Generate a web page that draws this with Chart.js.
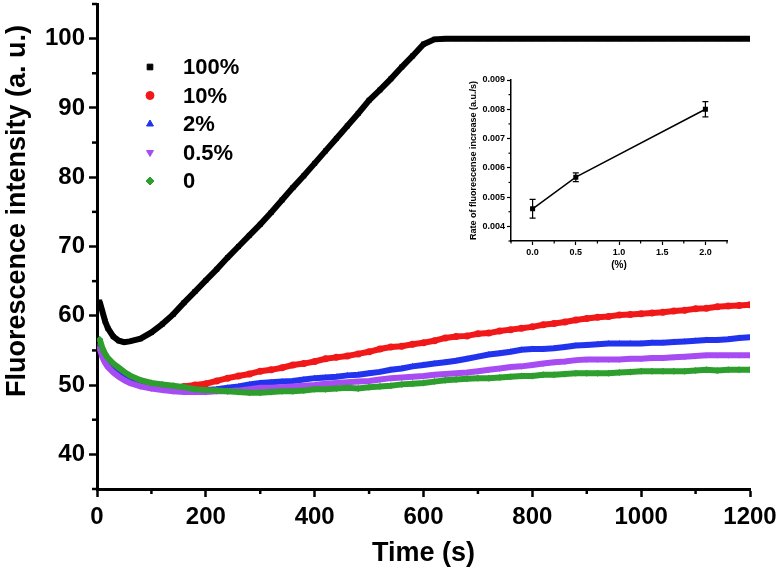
<!DOCTYPE html>
<html>
<head>
<meta charset="utf-8">
<script src="https://cdn.jsdelivr.net/npm/chart.js@4.4.0/dist/chart.umd.min.js"></script>
<style>
body { margin: 0; background: #fff; }
#wrap { position: relative; width: 779px; height: 573px; }
#main { position: absolute; left: 0; top: 0; }
#inset { position: absolute; left: 440px; top: 60px; }
</style>
</head>
<body>
<div id="wrap">
  <canvas id="main" width="779" height="573"></canvas>
  <canvas id="inset" width="300" height="215"></canvas>
</div>
<script>
// tempo (s)
const tempo = [5,10,15,20,30,40,50,60,80,100,120,140,160,180,
  200,220,240,260,280,300,320,340,360,380,400,420,440,460,480,500,520,540,560,580,
  600,620,640,660,680,700,720,740,760,780,800,820,840,860,880,900,920,940,960,980,
  1000,1020,1040,1060,1080,1100,1120,1140,1160,1180,1200];

const serie_100 = [62.0,60.6,59.2,58.2,57.0,56.4,56.2,56.3,56.7,57.6,58.8,60.2,61.9,63.5,
  65.1,66.7,68.4,70.0,71.6,73.2,74.9,76.7,78.5,80.2,82.0,83.8,85.6,87.4,89.2,91.1,92.6,94.2,95.9,97.5,
  99.2,99.9,100,100,100,100,100,100,100,100,100,100,100,100,100,100,100,100,100,100,
  100,100,100,100,100,100,100,100,100,100,100];
const serie_10 = [55.6,54.4,53.5,52.9,52.1,51.5,51.0,50.6,50.1,49.8,49.6,49.6,49.8,50.0,
  50.2,50.6,51.0,51.3,51.6,52.0,52.2,52.5,52.9,53.1,53.4,53.8,54.0,54.2,54.5,54.8,55.2,55.5,55.6,55.9,
  56.1,56.4,56.8,57.0,57.1,57.4,57.5,57.8,58.0,58.2,58.4,58.7,58.9,59.1,59.4,59.6,59.8,59.9,60.1,60.2,
  60.3,60.4,60.5,60.7,60.8,61.0,61.1,61.3,61.4,61.5,61.6];
const serie_2 = [55.9,54.7,53.8,53.2,52.4,51.8,51.3,50.9,50.3,50.0,49.7,49.5,49.4,49.3,
  49.3,49.4,49.6,49.8,50.1,50.3,50.4,50.5,50.6,50.8,51.0,51.1,51.2,51.4,51.5,51.7,51.9,52.2,52.4,52.7,
  52.9,53.1,53.3,53.5,53.8,54.1,54.4,54.6,54.8,55.1,55.2,55.2,55.3,55.5,55.7,55.8,55.9,56.0,56.0,56.0,
  56.0,56.1,56.1,56.2,56.3,56.4,56.5,56.5,56.6,56.8,56.9];
const serie_05 = [55.3,54.0,53.2,52.6,51.8,51.2,50.7,50.3,49.8,49.5,49.3,49.1,49.0,49.0,
  49.0,49.1,49.1,49.2,49.4,49.6,49.6,49.7,49.8,49.9,50.0,50.2,50.3,50.4,50.5,50.6,50.8,51.0,51.1,51.2,
  51.3,51.5,51.6,51.7,51.8,52.0,52.2,52.4,52.6,52.7,52.9,53.1,53.3,53.4,53.6,53.7,53.7,53.7,53.7,53.8,
  53.8,53.9,53.9,54.0,54.1,54.2,54.3,54.3,54.3,54.3,54.3];
const serie_0 = [56.6,55.3,54.5,53.9,53.1,52.5,51.9,51.4,50.7,50.3,50.1,49.9,49.7,49.4,
  49.3,49.2,49.1,49.0,48.9,48.9,49.0,49.1,49.1,49.2,49.4,49.4,49.5,49.6,49.5,49.7,49.8,49.9,50.1,50.2,
  50.3,50.5,50.7,50.8,50.9,51.0,51.0,51.1,51.2,51.3,51.3,51.5,51.5,51.6,51.7,51.7,51.7,51.7,51.8,51.9,
  52.0,52.0,52.0,52.0,52.0,52.1,52.2,52.1,52.2,52.2,52.2];

const rotulos = ['100%', '10%', '2%', '0.5%', '0'];
const cores = ['#000000', '#f01818', '#2233ee', '#a64cf2', '#2e9e2e'];
const estilos = ['rect', 'circle', 'triangle', 'triangle', 'rectRot'];
const rotacoes = [0, 0, 0, 180, 0];

// marcas dos eixos
const ticks_x = [0, 200, 400, 600, 800, 1000, 1200];
const ticks_y = [40, 50, 60, 70, 80, 90, 100];
const titulo_y = 'Fluorescence intensity (a. u.)';

// inset
const concentracao = [0.0, 0.5, 2.0];
const taxa = [0.00460, 0.00568, 0.00800];
const erro_taxa = [0.00032, 0.00015, 0.00026];
const ticks_x_inset = [0.0, 0.5, 1.0, 1.5, 2.0];
const ticks_y_inset = [0.004, 0.005, 0.006, 0.007, 0.008, 0.009];

const fonte = '"Liberation Sans", Arial, sans-serif';

function monta_pontos(xs, ys) {
  return xs.map((x, i) => ({x: x, y: ys[i]}));
}

function fixa_ticks(lista) {
  return (s) => { s.ticks = lista.map(v => ({value: v})); };
}

const minorTicks = {
  id: 'minorTicks',
  afterDraw(chart, args, opts) {
    const ctx = chart.ctx;
    const area = chart.chartArea;
    const xs = chart.scales.x, ys = chart.scales.y;
    ctx.save();
    ctx.strokeStyle = '#000';
    ctx.lineWidth = opts.width;
    for (let v = opts.xStart; v <= xs.max + 1e-9; v += opts.xStep) {
      const px = xs.getPixelForValue(v);
      ctx.beginPath(); ctx.moveTo(px, area.bottom); ctx.lineTo(px, area.bottom + opts.len); ctx.stroke();
    }
    for (let v = opts.yStart; v <= ys.max + 1e-9; v += opts.yStep) {
      const py = ys.getPixelForValue(v);
      ctx.beginPath(); ctx.moveTo(area.left, py); ctx.lineTo(area.left - opts.len, py); ctx.stroke();
    }
    ctx.restore();
  }
};

const legendaInterna = {
  id: 'legendaInterna',
  afterDraw(chart) {
    const ctx = chart.ctx;
    ctx.save();
    chart.data.datasets.forEach((ds, i) => {
      const y = 67 + i * 28.5;
      ctx.fillStyle = ds.backgroundColor;
      ctx.strokeStyle = ds.borderColor;
      Chart.helpers.drawPoint(ctx, {pointStyle: ds.pointStyle, rotation: ds.pointRotation, radius: 4, borderWidth: 1}, 150, y);
      ctx.fillStyle = '#000';
      ctx.font = 'bold 22px ' + fonte;
      ctx.textBaseline = 'middle';
      ctx.fillText(ds.label, 183, y + 1);
    });
    // titulo do eixo y (fica acima do centro no original)
    ctx.translate(18, 211);
    ctx.rotate(-Math.PI / 2);
    ctx.font = 'bold 27px ' + fonte;
    ctx.textAlign = 'center';
    ctx.textBaseline = 'middle';
    ctx.fillText(titulo_y, 0, 0);
    ctx.restore();
  }
};

const series = [serie_100, serie_10, serie_2, serie_05, serie_0];
const datasets = series.map((s, i) => ({
  label: rotulos[i],
  data: monta_pontos(tempo, s),
  showLine: true,
  borderColor: cores[i],
  backgroundColor: cores[i],
  borderWidth: 6,
  pointStyle: estilos[i],
  pointRotation: rotacoes[i],
  pointRadius: 3.5,
  pointBorderWidth: 0,
  order: 4 - i
}));

new Chart(document.getElementById('main'), {
  type: 'scatter',
  data: {datasets: datasets},
  plugins: [minorTicks, legendaInterna],
  options: {
    responsive: false,
    animation: false,
    layout: {padding: {top: 3, right: 29, left: 0, bottom: 0}},
    plugins: {
      legend: {display: false},
      tooltip: {enabled: false},
      minorTicks: {xStart: 100, xStep: 200, yStart: 35, yStep: 10, len: 5, width: 2.5}
    },
    scales: {
      x: {
        type: 'linear', min: 0, max: 1200,
        afterBuildTicks: fixa_ticks(ticks_x),
        afterFit: (s) => { s.height = 84; s.paddingLeft = 0; s.paddingRight = 0; },
        border: {display: true, width: 3, color: '#000'},
        grid: {drawOnChartArea: false, tickLength: 8, tickWidth: 2.5, tickColor: '#000'},
        ticks: {padding: 6, color: '#000', font: {family: fonte, size: 24, weight: 'bold'}, maxRotation: 0,
          callback: (v) => String(v)},
        title: {display: true, text: 'Time (s)', color: '#000', padding: {top: 0, bottom: 3}, font: {family: fonte, size: 27, weight: 'bold'}}
      },
      y: {
        type: 'linear', min: 35, max: 105,
        afterBuildTicks: fixa_ticks(ticks_y),
        afterFit: (s) => { s.width = 97; s.paddingTop = 0; s.paddingBottom = 0; },
        border: {display: true, width: 3, color: '#000'},
        grid: {drawOnChartArea: false, tickLength: 8, tickWidth: 2.5, tickColor: '#000'},
        ticks: {padding: 4, color: '#000', font: {family: fonte, size: 24, weight: 'bold'},
          callback: (v) => String(v)}
      }
    }
  }
});

const barrasErro = {
  id: 'barrasErro',
  afterDatasetsDraw(chart) {
    const ctx = chart.ctx;
    const xs = chart.scales.x, ys = chart.scales.y;
    ctx.save();
    ctx.strokeStyle = '#000';
    ctx.lineWidth = 1.2;
    concentracao.forEach((c, i) => {
      const px = xs.getPixelForValue(c);
      const top = ys.getPixelForValue(taxa[i] + erro_taxa[i]);
      const bot = ys.getPixelForValue(taxa[i] - erro_taxa[i]);
      ctx.beginPath();
      ctx.moveTo(px, top); ctx.lineTo(px, bot);
      ctx.moveTo(px - 3, top); ctx.lineTo(px + 3, top);
      ctx.moveTo(px - 3, bot); ctx.lineTo(px + 3, bot);
      ctx.stroke();
    });
    ctx.restore();
  }
};

new Chart(document.getElementById('inset'), {
  type: 'scatter',
  data: {datasets: [{
    data: monta_pontos(concentracao, taxa),
    showLine: true,
    borderColor: '#000',
    backgroundColor: '#000',
    borderWidth: 1.5,
    pointStyle: 'rect',
    pointRadius: 2.5
  }]},
  plugins: [minorTicks, barrasErro],
  options: {
    responsive: false,
    animation: false,
    layout: {padding: {top: 20, right: 13, left: 0, bottom: 0}},
    plugins: {
      legend: {display: false},
      tooltip: {enabled: false},
      minorTicks: {xStart: -0.25, xStep: 0.5, yStart: 0.0035, yStep: 0.001, len: 2.5, width: 1.2}
    },
    scales: {
      x: {
        type: 'linear', min: -0.25, max: 2.25,
        afterBuildTicks: fixa_ticks(ticks_x_inset),
        afterFit: (s) => { s.height = 34; },
        border: {display: true, width: 1.5, color: '#000'},
        grid: {drawOnChartArea: false, tickLength: 4, tickWidth: 1.2, tickColor: '#000'},
        ticks: {padding: 2, color: '#000', maxRotation: 0, font: {family: fonte, size: 9, weight: 'bold'},
          callback: (v) => v.toFixed(1)},
        title: {display: true, text: '(%)', color: '#000', padding: {top: 0, bottom: 4}, font: {family: fonte, size: 10, weight: 'bold'}}
      },
      y: {
        type: 'linear', min: 0.0035, max: 0.009,
        afterBuildTicks: fixa_ticks(ticks_y_inset),
        afterFit: (s) => { s.width = 71; },
        border: {display: true, width: 1.5, color: '#000'},
        grid: {drawOnChartArea: false, tickLength: 4, tickWidth: 1.2, tickColor: '#000'},
        ticks: {padding: 2, color: '#000', font: {family: fonte, size: 9, weight: 'bold'},
          callback: (v) => v.toFixed(3)},
        title: {display: true, text: 'Rate of fluorescense increase (a.u./s)', color: '#000', padding: {top: 28, bottom: 0}, font: {family: fonte, size: 9, weight: 'bold'}}
      }
    }
  }
});
</script>
</body>
</html>
